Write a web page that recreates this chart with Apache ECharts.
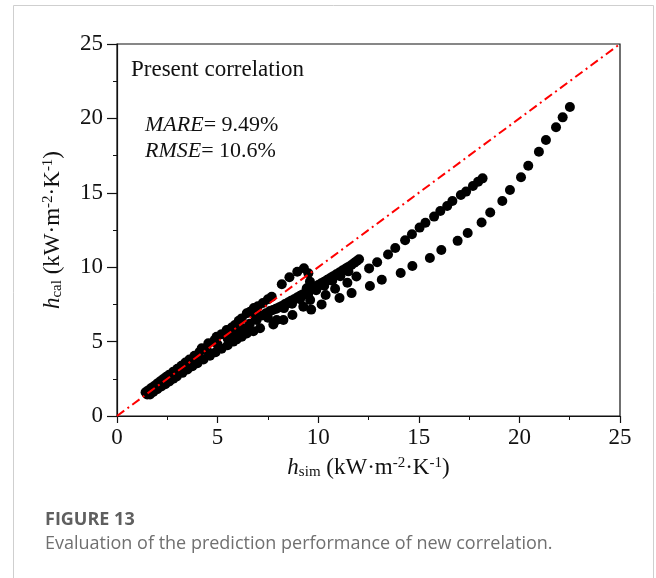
<!DOCTYPE html>
<html>
<head>
<meta charset="utf-8">
<script src="https://cdn.jsdelivr.net/npm/echarts@6/dist/echarts.min.js"></script>
<style>
  html, body { margin: 0; padding: 0; background: #fff; }
  #chart { width: 656px; height: 578px; }
</style>
</head>
<body>
<div id="chart"></div>
<script>
  // axis ticks
  var axisMin = 0
  var axisMax = 25
  var axisStep = 5

  // reference line y = x
  var refLine = [[0, 0], [25, 25]]

  // dense band near the diagonal (upper edge)
  var bandUpper = [
    [1.42, 1.60], [1.55, 1.72], [1.7, 1.88], [1.85, 2.02], [2.0, 2.18], [2.15, 2.33], [2.3, 2.48],
    [2.45, 2.63], [2.6, 2.78], [2.8, 2.98], [3.0, 3.18], [3.2, 3.38], [3.4, 3.6], [3.6, 3.8],
    [3.85, 4.05], [4.1, 4.3], [4.21, 4.55], [4.54, 4.89], [4.85, 5.1], [4.95, 5.33], [5.2, 5.5],
    [5.45, 5.78], [5.7, 5.95], [5.86, 6.12], [6.05, 6.4], [6.2, 6.56], [6.45, 6.9], [6.61, 7.01],
    [6.8, 7.25], [7.0, 7.38], [7.25, 7.6], [7.5, 7.85], [7.69, 8.02]
  ]

  // dense band (middle / lower edge)
  var bandLower = [
    [1.5, 1.45], [1.64, 1.45], [1.8, 1.62], [2.0, 1.8], [2.2, 1.98], [2.4, 2.14], [2.6, 2.32],
    [2.8, 2.5], [2.97, 2.66], [3.25, 2.9], [3.5, 3.12], [3.75, 3.34], [4.0, 3.55], [4.3, 3.8],
    [4.62, 4.05], [4.9, 4.28], [5.2, 4.52], [5.5, 4.76], [5.78, 5.0], [5.95, 5.15], [6.2, 5.33],
    [6.45, 5.55], [6.78, 5.7], [7.11, 5.9], [7.77, 6.15],
    [2.5, 2.45], [3.0, 2.9], [3.5, 3.4], [4.0, 3.9], [4.5, 4.35], [5.0, 4.8], [5.5, 5.2],
    [5.78, 5.33], [6.0, 5.6], [6.3, 5.9], [6.45, 5.78], [6.6, 6.2], [6.94, 6.45], [6.9, 6.6],
    [7.2, 6.75], [7.4, 6.9], [7.5, 6.6], [7.94, 6.45]
  ]

  // dense line running to (12, 10.5)
  var denseLine = [
    [7.6, 7.05], [7.75, 7.12], [7.9, 7.2], [8.05, 7.3], [8.2, 7.4], [8.35, 7.52], [8.5, 7.63],
    [8.65, 7.74], [8.8, 7.84], [8.95, 7.96], [9.1, 8.08], [9.25, 8.19], [9.4, 8.3], [9.55, 8.42],
    [9.7, 8.53], [9.85, 8.65], [10.0, 8.8], [10.15, 8.92], [10.3, 9.03], [10.45, 9.15],
    [10.6, 9.28], [10.75, 9.4], [10.9, 9.52], [11.05, 9.64], [11.2, 9.77], [11.35, 9.9],
    [11.5, 10.02], [11.65, 10.15], [11.8, 10.3], [11.92, 10.42], [12.03, 10.53],
    [8.3, 7.25], [8.7, 7.55], [9.1, 7.85], [9.5, 8.15], [9.9, 8.45], [10.3, 8.75], [10.7, 9.1],
    [11.1, 9.4], [11.5, 9.72]
  ]

  // small loop near (9, 9.5)
  var loopPts = [
    [8.19, 8.85], [8.57, 9.32], [8.96, 9.70], [9.29, 9.93], [9.51, 9.59], [9.59, 9.03], [9.43, 8.58]
  ]

  // middle series turning into the upper branch
  var upperBranch = [
    [9.6, 7.8], [10.37, 8.13], [10.84, 8.55], [11.45, 8.96], [11.9, 9.38], [12.53, 9.92],
    [12.93, 10.33], [13.47, 10.85], [13.83, 11.29], [14.32, 11.81], [14.66, 12.21], [15.04, 12.66],
    [15.33, 12.99], [15.76, 13.40], [16.07, 13.78], [16.41, 14.11], [16.67, 14.45], [17.09, 14.85],
    [17.35, 15.08], [17.69, 15.46], [17.95, 15.75], [18.17, 15.97]
  ]

  // lower branch
  var lowerBranch = [
    [8.27, 6.45], [8.72, 6.79], [9.26, 7.35], [9.65, 7.15], [10.17, 7.5],
    [11.06, 7.93], [11.66, 8.26], [12.57, 8.74], [13.16, 9.16], [14.1, 9.61], [14.68, 10.08],
    [15.55, 10.62], [16.12, 11.15], [16.93, 11.77], [17.43, 12.3], [18.12, 13.0], [18.55, 13.68],
    [19.15, 14.45], [19.53, 15.19], [20.08, 16.04], [20.44, 16.82], [20.97, 17.76], [21.32, 18.55],
    [21.82, 19.40], [22.15, 20.07], [22.51, 20.77]
  ]

  var serif = '"Liberation Serif", "DejaVu Serif", serif'
  var dot = {
    type: 'scatter',
    symbol: 'circle',
    symbolSize: 10,
    itemStyle: { color: '#000', opacity: 1 },
    z: 3
  }

  var nameStyle = {
    color: '#111', fontFamily: serif,
    rich: {
      i: { fontStyle: 'italic', fontSize: 23, fontFamily: serif, color: '#111' },
      n: { fontSize: 23, fontFamily: serif, color: '#111' },
      sub: { fontSize: 15, fontFamily: serif, color: '#111', verticalAlign: 'bottom', padding: [9, 0, 0, 0] },
      sup: { fontSize: 15, fontFamily: serif, color: '#111', verticalAlign: 'top', padding: [0, 0, 9, 0] }
    }
  }
  var axisName = function (s) {
    return '{i|h}{sub|' + s + '}{n| (kW·m}{sup|-2}{n|·K}{sup|-1}{n|)}'
  }

  function axisCommon(tickLen, labelMargin) {
    return {
      type: 'value',
      min: axisMin,
      max: axisMax,
      interval: axisStep,
      nameLocation: 'middle',
      axisLine: { show: true, lineStyle: { color: '#111', width: 1.2 } },
      axisTick: { show: true, inside: false, length: tickLen, lineStyle: { color: '#111', width: 1.2 } },
      minorTick: { show: true, splitNumber: 2, length: 4, lineStyle: { color: '#111', width: 1 } },
      axisLabel: { color: '#111', fontFamily: serif, fontSize: 23, margin: labelMargin },
      splitLine: { show: false }
    }
  }

  var xAxis = axisCommon(7, 10)
  xAxis.name = axisName('sim')
  xAxis.nameGap = 40
  xAxis.nameTextStyle = nameStyle

  var yAxis = axisCommon(10, 14)
  yAxis.name = axisName('cal')
  yAxis.nameGap = 52
  yAxis.nameRotate = 90
  yAxis.nameTextStyle = nameStyle

  var chart = echarts.init(document.getElementById('chart'), null, { renderer: 'canvas' })

  chart.setOption({
    backgroundColor: '#fff',
    animation: false,
    grid: {
      left: 117,
      right: 36,
      top: 44,
      bottom: 162,
      show: true,
      borderColor: '#111',
      borderWidth: 1.2,
      backgroundColor: 'transparent'
    },
    xAxis: xAxis,
    yAxis: yAxis,
    graphic: [
      {
        type: 'rect',
        shape: { x: 13.5, y: 5.5, width: 640, height: 600 },
        style: { fill: 'none', stroke: '#cfcfcf', lineWidth: 1 },
        silent: true, z: -1
      },
      {
        type: 'text', left: 131, top: 58,
        style: { text: 'Present correlation', font: '23px ' + serif, fill: '#111' }
      },
      {
        type: 'text', left: 145, top: 112,
        style: {
          text: '{i|MARE}{n|= 9.49%}\n{i|RMSE}{n|= 10.6%}',
          lineHeight: 26,
          rich: {
            i: { fontStyle: 'italic', fontSize: 22, fontFamily: serif, fill: '#111', lineHeight: 26 },
            n: { fontSize: 22, fontFamily: serif, fill: '#111', lineHeight: 26 }
          }
        }
      },
      {
        type: 'text', left: 45, top: 511,
        style: { text: 'FIGURE 13', font: 'bold 18px "Open Sans", "Noto Sans", sans-serif', fill: '#5f5f5f' }
      },
      {
        type: 'text', left: 45, top: 535,
        style: { text: 'Evaluation of the prediction performance of new correlation.', font: '18px "Open Sans", "Noto Sans", sans-serif', fill: '#707070' }
      }
    ],
    series: [
      Object.assign({ name: 'bandLower', data: bandLower }, dot),
      Object.assign({ name: 'bandUpper', data: bandUpper }, dot),
      Object.assign({ name: 'denseLine', data: denseLine }, dot),
      Object.assign({ name: 'loop', data: loopPts }, dot),
      Object.assign({ name: 'upperBranch', data: upperBranch }, dot),
      Object.assign({ name: 'lowerBranch', data: lowerBranch }, dot),
      {
        name: 'y = x',
        type: 'line',
        data: refLine,
        symbol: 'none',
        lineStyle: { color: '#ff0000', width: 2, type: [9, 4, 2, 4] },
        z: 5
      }
    ]
  })
</script>
</body>
</html>
